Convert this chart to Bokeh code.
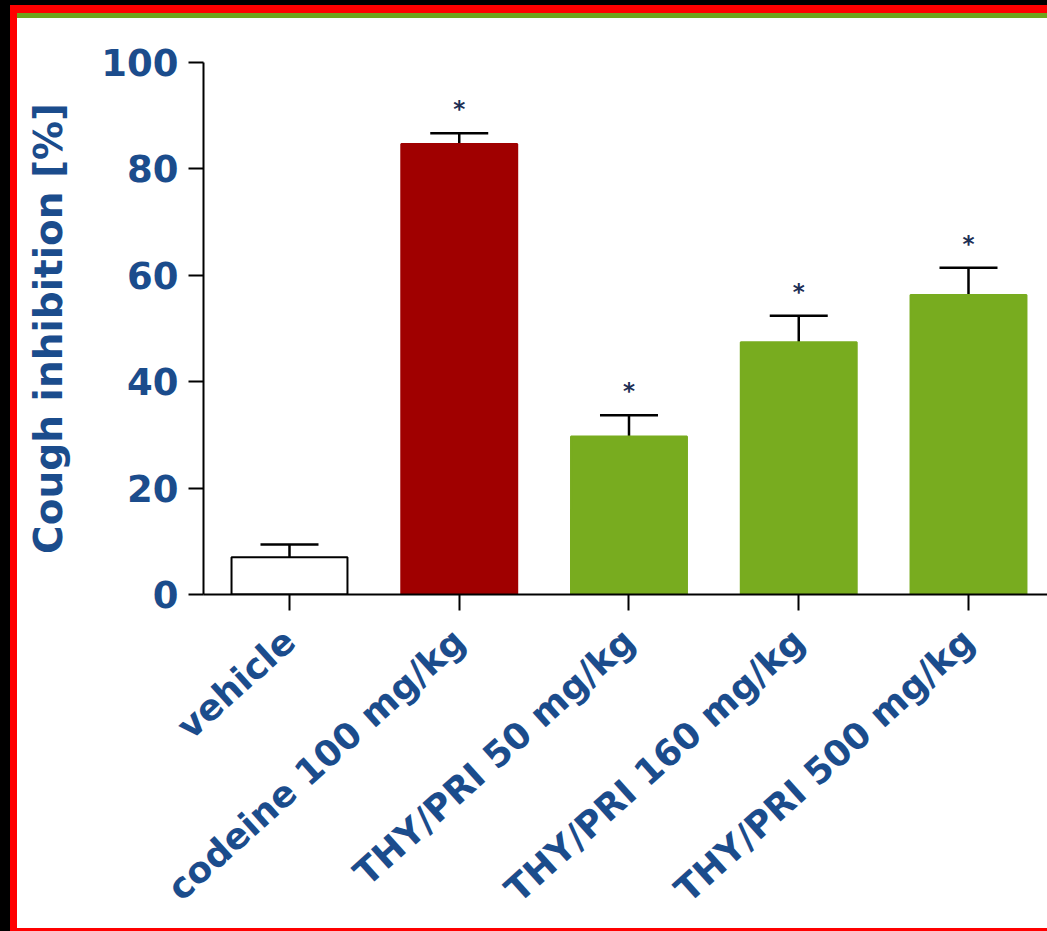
from bokeh.plotting import figure
from bokeh.models import Range1d, FixedTicker, Whisker, TeeHead, ColumnDataSource
from bokeh.core.properties import value
from bokeh.embed import file_html
from bokeh.resources import INLINE

# ---- data ----
categories = ["vehicle", "codeine 100 mg/kg", "THY/PRI 50 mg/kg",
              "THY/PRI 160 mg/kg", "THY/PRI 500 mg/kg"]
means = [7.0, 84.7, 29.7, 47.4, 56.3]
sems = [2.4, 2.0, 4.0, 5.0, 5.1]
significant = [False, True, True, True, True]
bar_colors = ["#ffffff", "#a00000", "#78ac1f", "#78ac1f", "#78ac1f"]
bar_lines = ["#000000", "#a00000", "#78ac1f", "#78ac1f", "#78ac1f"]
y_ticks = [0, 20, 40, 60, 80, 100]

BLUE = "#1b4c8c"
FONT = "DejaVu Sans"

BL, BT, BB = 7, 8, 3                # css border widths (left, top, bottom)
W, H = 1030, 915                    # css content size
CW, CH = W + BL, H + BT + BB        # canvas size bokeh lays out (border box)
FL, FB, FT = 186, 581, 49           # frame left, bottom, top (canvas px)
PX = 169.75                         # px per category
X0 = -0.5066

p = figure(width=W, height=H, output_backend="svg",
           toolbar_location=None,
           x_range=Range1d(X0, X0 + (W - FL) / PX), y_range=Range1d(0, 100),
           min_border_left=FL, min_border_right=CW - W, min_border_top=FT,
           min_border_bottom=CH - FB)
p.outline_line_color = None
p.xgrid.visible = False
p.ygrid.visible = False
p.background_fill_color = "white"
p.border_fill_color = None
p.styles = {
    "box-sizing": "content-box",
    "margin-left": "10px",
    "margin-top": "5px",
    "border-left": f"{BL}px solid #ff0000",
    "border-top": f"{BT}px solid #ff0000",
    "border-bottom": f"{BB}px solid #ff0000",
    "box-shadow": "-10px 0 0 0 #000000, 0 -5px 0 0 #000000, -10px -5px 0 0 #000000",
    "background": "linear-gradient(to bottom, #6ea51c 0px, #6ea51c 5px, #ffffff 5px)",
}

xs = list(range(len(categories)))
src = ColumnDataSource(dict(x=xs, top=means, fill=bar_colors, line=bar_lines,
                            upper=[m + s for m, s in zip(means, sems)]))

p.vbar(x="x", top="top", bottom=0, width=0.683, source=src,
       fill_color="fill", line_color="line", line_width=2)

wh = Whisker(base="x", lower="top", upper="upper", source=src,
             line_color="black", line_width=2.5,
             upper_head=TeeHead(size=58, line_color="black", line_width=2.5),
             lower_head=None)
p.add_layout(wh)

sx = [x for x, s in zip(xs, significant) if s]
sy = [m + s + 4.5 for m, s, g in zip(means, sems, significant) if g]
p.text(x=sx, y=sy, text=["*"] * len(sx), text_font=value(FONT),
       text_font_size="23px", text_font_style="bold", text_align="center",
       text_baseline="alphabetic", text_color="#1e2f55")

# axes
p.yaxis.bounds = (0, 100)
p.yaxis.ticker = FixedTicker(ticks=y_ticks)
p.yaxis.axis_label = "Cough inhibition [%]"
p.yaxis.axis_label_text_font = FONT
p.yaxis.axis_label_text_font_size = "39px"
p.yaxis.axis_label_text_font_style = "bold"
p.yaxis.axis_label_text_color = BLUE
p.yaxis.axis_label_standoff = 27
p.yaxis.major_label_text_font = FONT
p.yaxis.major_label_text_font_size = "37px"
p.yaxis.major_label_text_font_style = "bold"
p.yaxis.major_label_text_color = BLUE
p.yaxis.major_label_standoff = 10
p.yaxis.major_tick_out = 15
p.yaxis.major_tick_in = 0
p.yaxis.minor_tick_out = 0
p.yaxis.minor_tick_in = 0

p.xaxis.ticker = FixedTicker(ticks=xs)
p.xaxis.major_label_overrides = {x: c for x, c in zip(xs, categories)}
p.xaxis.major_label_orientation = 0.733
p.xaxis.major_label_text_font = FONT
p.xaxis.major_label_text_font_size = "36px"
p.xaxis.major_label_text_font_style = "bold"
p.xaxis.major_label_text_color = BLUE
p.xaxis.major_label_standoff = 25
p.xaxis.major_tick_out = 16
p.xaxis.major_tick_in = 0
p.xaxis.minor_tick_out = 0
p.xaxis.minor_tick_in = 0

for ax in (p.xaxis, p.yaxis):
    ax.axis_line_color = "black"
    ax.axis_line_width = 2
    ax.major_tick_line_color = "black"
    ax.major_tick_line_width = 2

open("out.html", "w").write(file_html(p, INLINE))
